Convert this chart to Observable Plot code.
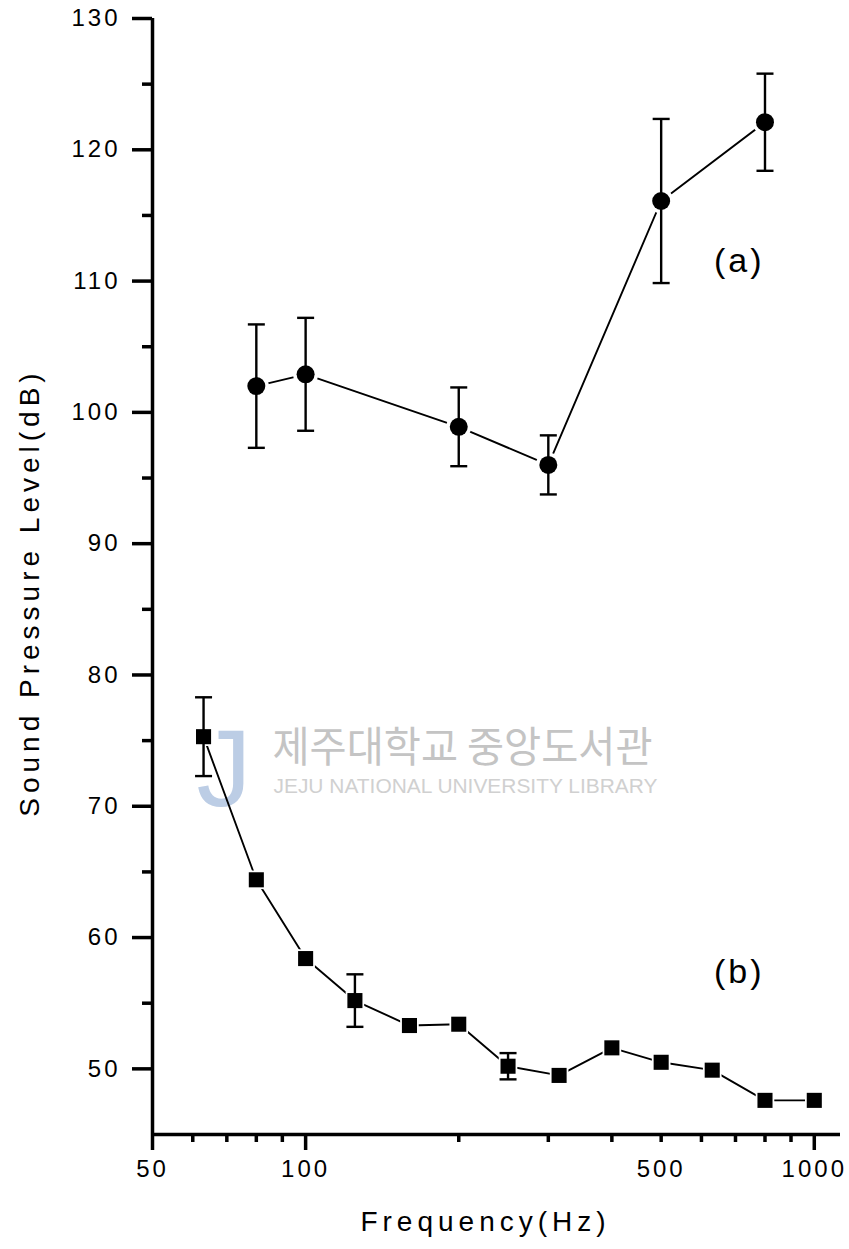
<!DOCTYPE html>
<html>
<head>
<meta charset="utf-8">
<script src="https://cdn.jsdelivr.net/npm/d3@7"></script>
<script src="https://cdn.jsdelivr.net/npm/@observablehq/plot@0.6"></script>
<style>
  html, body { margin: 0; padding: 0; background: #fff; }
  #chart { width: 849px; height: 1249px; }
</style>
</head>
<body>
<div id="chart"></div>
<script>
// (a) series: band centre frequency (Hz), mean level (dB), ± deviation
const freqA = [80, 100, 200, 300, 500, 800];
const levelA = [102.0, 102.9, 98.9, 96.0, 116.1, 122.1];
const errA = [4.7, 4.3, 3.0, 2.25, 6.25, 3.7];

// (b) series: one-third-octave bands, mean level (dB), ± deviation (null = none)
const freqB = [63, 80, 100, 125, 160, 200, 250, 315, 400, 500, 630, 800, 1000];
const levelB = [75.3, 64.4, 58.4, 55.2, 53.3, 53.4, 50.2, 49.5, 51.6, 50.5, 49.9, 47.6, 47.6];
const errB = [3.0, null, null, 2.0, null, null, 1.0, null, null, null, null, null, null];

// axis ticks
const yMajor = [50, 60, 70, 80, 90, 100, 110, 120, 130];
const yMinor = [55, 65, 75, 85, 95, 105, 115, 125];
const xMajor = [50, 100, 1000];
const xMinor = [60, 70, 80, 90, 200, 300, 400, 500, 600, 700, 800, 900];
const xLabels = [50, 100, 500, 1000];

const panelLabels = ["(a)", "(b)"];
const panelFreq = [712, 712];
const panelLevel = [111.5, 57.4];

const seriesA = freqA.map((f, i) => ({freq: f, level: levelA[i], err: errA[i]}));
const seriesB = freqB.map((f, i) => ({freq: f, level: levelB[i], err: errB[i]}));
const barsA = seriesA;
const barsB = seriesB.filter(d => d.err != null);
const panels = panelLabels.map((t, i) => ({text: t, freq: panelFreq[i], level: panelLevel[i]}));

// horizontal cap drawn at the end of each error bar
const cap = {
  draw(context) {
    context.moveTo(-8.5, 0);
    context.lineTo(8.5, 0);
  }
};

const font = "'Liberation Sans', Arial, Helvetica, sans-serif";

const chart = Plot.plot({
  width: 849,
  height: 1249,
  marginLeft: 152,
  marginRight: 9,
  marginTop: 18,
  marginBottom: 115,
  style: {fontFamily: font, color: "#000", background: "#fff", overflow: "visible"},
  x: {type: "log", domain: [50, 1126]},
  y: {domain: [45, 130]},
  marks: [
    // library watermark
    Plot.text(["J"], {frameAnchor: "top-left", dx: 44, dy: 752, fontSize: 110, fill: "#bccde5", textAnchor: "start", lineAnchor: "middle"}),
    Plot.text(["제주대학교 중앙도서관"], {frameAnchor: "top-left", dx: 120, dy: 730, fontSize: 42, fill: "#c4c4c4", textAnchor: "start", lineAnchor: "middle", fontFamily: "'Noto Sans CJK KR', sans-serif"}),
    Plot.text(["JEJU NATIONAL UNIVERSITY LIBRARY"], {frameAnchor: "top-left", dx: 121, dy: 768, fontSize: 20, fill: "#d0d0d0", textAnchor: "start", lineAnchor: "middle"}),

    // connecting lines with white halos leaving a gap round each marker
    Plot.line(seriesA, {x: "freq", y: "level", stroke: "#000", strokeWidth: 1.9}),
    Plot.line(seriesB, {x: "freq", y: "level", stroke: "#000", strokeWidth: 1.9}),
    Plot.dot(seriesA, {x: "freq", y: "level", r: 12.5, fill: "#fff"}),
    Plot.dot(seriesB, {x: "freq", y: "level", r: 10.5, symbol: "square", fill: "#fff"}),

    // error bars
    Plot.ruleX(barsA, {x: "freq", y1: d => d.level - d.err, y2: d => d.level + d.err, stroke: "#000", strokeWidth: 2.4}),
    Plot.ruleX(barsB, {x: "freq", y1: d => d.level - d.err, y2: d => d.level + d.err, stroke: "#000", strokeWidth: 2.4}),
    Plot.dot(barsA, {x: "freq", y: d => d.level + d.err, symbol: cap, fill: "none", stroke: "#000", strokeWidth: 2.4}),
    Plot.dot(barsA, {x: "freq", y: d => d.level - d.err, symbol: cap, fill: "none", stroke: "#000", strokeWidth: 2.4}),
    Plot.dot(barsB, {x: "freq", y: d => d.level + d.err, symbol: cap, fill: "none", stroke: "#000", strokeWidth: 2.4}),
    Plot.dot(barsB, {x: "freq", y: d => d.level - d.err, symbol: cap, fill: "none", stroke: "#000", strokeWidth: 2.4}),

    // markers
    Plot.dot(seriesA, {x: "freq", y: "level", r: 9, fill: "#000", stroke: "none"}),
    Plot.dot(seriesB, {x: "freq", y: "level", r: 8.5, symbol: "square", fill: "#000", stroke: "none"}),

    // panel labels
    Plot.text(panels, {x: "freq", y: "level", text: "text", fontSize: 34, fill: "#000", textAnchor: "middle", lineAnchor: "middle"}),

    // axes
    Plot.axisY({ticks: yMajor, tickSize: 20, tickPadding: 12, strokeWidth: 3.5, fontSize: 24, label: null, tickFormat: d => String(d)}),
    Plot.axisY({ticks: yMinor, tickSize: 10, strokeWidth: 3.5, label: null, tickFormat: () => ""}),
    Plot.axisX({ticks: xMajor, tickSize: 16, strokeWidth: 3.5, label: null, tickFormat: () => ""}),
    Plot.axisX({ticks: xMinor, tickSize: 8, strokeWidth: 3.5, label: null, tickFormat: () => ""}),
    Plot.axisX({ticks: xLabels, tickSize: 0, tickPadding: 25, fontSize: 24, label: null, tickFormat: d => String(d)}),
    Plot.ruleX([50], {y1: 45, y2: 130, stroke: "#000", strokeWidth: 3.5}),
    Plot.ruleY([45], {x1: 50, x2: 1126, stroke: "#000", strokeWidth: 3.5}),

    // axis titles
    Plot.text(["Frequency(Hz)"], {frameAnchor: "bottom", dx: -11, dy: 88, fontSize: 28, fill: "#000", textAnchor: "middle", lineAnchor: "middle"}),
    Plot.text(["Sound Pressure Level(dB)"], {frameAnchor: "left", dx: -122, dy: 16, rotate: -90, fontSize: 28, fill: "#000", textAnchor: "middle", lineAnchor: "middle"})
  ]
});

// letter spacing of the printed labels, fixed widths for the watermark lines
d3.select(chart).selectAll("text").each(function () {
  const t = this.textContent;
  const sel = d3.select(this);
  if (t === "제주대학교 중앙도서관") {
    sel.attr("textLength", 380).attr("lengthAdjust", "spacingAndGlyphs");
  } else if (t === "JEJU NATIONAL UNIVERSITY LIBRARY") {
    sel.attr("textLength", 384).attr("lengthAdjust", "spacingAndGlyphs");
  } else if (t === "J") {
    // logo glyph, leave as is
  } else if (t === "Frequency(Hz)" || t === "Sound Pressure Level(dB)") {
    sel.style("letter-spacing", "5px");
  } else if (t.length) {
    sel.style("letter-spacing", "3px");
  }
});

document.getElementById("chart").appendChild(chart);
</script>
</body>
</html>
